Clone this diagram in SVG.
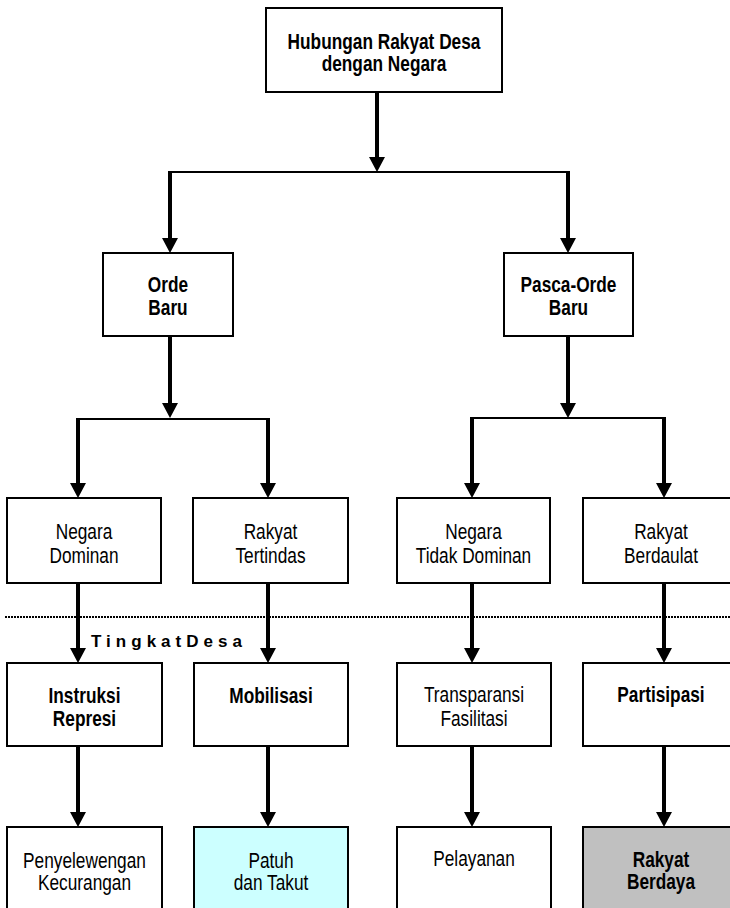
<svg xmlns="http://www.w3.org/2000/svg" width="730" height="908" viewBox="0 0 730 908">
<style>
.box{fill:#fff;stroke:#000;stroke-width:2}
.t{font-family:"Liberation Sans",Arial,sans-serif;font-size:22px;text-anchor:middle;fill:#000}
.b{font-weight:bold}
.v{stroke:#000;stroke-width:4;fill:none;marker-end:url(#ah)}
.h{stroke:#000;stroke-width:2;fill:none}
</style>
<defs>
<marker id="ah" markerUnits="userSpaceOnUse" markerWidth="16" markerHeight="16" viewBox="0 0 16 16" refX="5" refY="8" orient="auto">
<path d="M0,0 L15,8 L0,16 Z" fill="#000"/>
</marker>
</defs>
<rect width="730" height="908" fill="#fff"/>
<line x1="5" y1="617" x2="730" y2="617" stroke="#000" stroke-width="2" stroke-dasharray="2 1"/>
<text x="91" y="647" font-family="Liberation Sans, Arial, sans-serif" font-size="17" font-weight="bold" textLength="151" lengthAdjust="spacing">TingkatDesa</text>
<g id="connectors">
<line class="v" x1="377" y1="92" x2="377" y2="162"/>
<line class="h" x1="169" y1="172" x2="570" y2="172"/>
<line class="v" x1="170" y1="171" x2="170" y2="243"/>
<line class="v" x1="568" y1="171" x2="568" y2="243"/>
<line class="v" x1="170" y1="336" x2="170" y2="408"/>
<line class="h" x1="77" y1="419" x2="269" y2="419"/>
<line class="v" x1="78" y1="418" x2="78" y2="488"/>
<line class="v" x1="268" y1="418" x2="268" y2="488"/>
<line class="v" x1="568" y1="336" x2="568" y2="408"/>
<line class="h" x1="471" y1="418" x2="665" y2="418"/>
<line class="v" x1="472" y1="417" x2="472" y2="488"/>
<line class="v" x1="664" y1="417" x2="664" y2="488"/>
<line class="v" x1="78" y1="583" x2="78" y2="653"/>
<line class="v" x1="268" y1="583" x2="268" y2="653"/>
<line class="v" x1="472" y1="583" x2="472" y2="653"/>
<line class="v" x1="664" y1="583" x2="664" y2="653"/>
<line class="v" x1="78" y1="746" x2="78" y2="817"/>
<line class="v" x1="268" y1="746" x2="268" y2="817"/>
<line class="v" x1="472" y1="746" x2="472" y2="817"/>
<line class="v" x1="664" y1="746" x2="664" y2="817"/>
</g>
<g id="n-hubungan">
<rect class="box" x="266" y="8" width="236" height="84"/>
<text class="t b" transform="translate(384,48.5) scale(0.785,1)">Hubungan Rakyat Desa<tspan x="0" dy="23">dengan Negara</tspan></text>
</g>
<g id="n-orde">
<rect class="box" x="103" y="253" width="130" height="83"/>
<text class="t b" transform="translate(168,291.7) scale(0.785,1)">Orde<tspan x="0" dy="23.3">Baru</tspan></text>
</g>
<g id="n-pasca">
<rect class="box" x="504" y="253" width="129" height="83"/>
<text class="t b" transform="translate(568.5,291.7) scale(0.785,1)">Pasca-Orde<tspan x="0" dy="23.3">Baru</tspan></text>
</g>
<g id="n-negara-dominan">
<rect class="box" x="7" y="498" width="154" height="85"/>
<text class="t" transform="translate(84,539) scale(0.785,1)">Negara<tspan x="0" dy="24">Dominan</tspan></text>
</g>
<g id="n-rakyat-tertindas">
<rect class="box" x="193" y="498" width="155" height="85"/>
<text class="t" transform="translate(270.5,539) scale(0.785,1)">Rakyat<tspan x="0" dy="24">Tertindas</tspan></text>
</g>
<g id="n-negara-tidak-dominan">
<rect class="box" x="397" y="498" width="153" height="85"/>
<text class="t" transform="translate(473.5,539) scale(0.785,1)">Negara<tspan x="0" dy="24">Tidak Dominan</tspan></text>
</g>
<g id="n-rakyat-berdaulat">
<rect class="box" x="583" y="498" width="156" height="85"/>
<text class="t" transform="translate(661,539) scale(0.785,1)">Rakyat<tspan x="0" dy="24">Berdaulat</tspan></text>
</g>
<g id="n-instruksi">
<rect class="box" x="7" y="663" width="155" height="83"/>
<text class="t b" transform="translate(84.5,703) scale(0.785,1)">Instruksi<tspan x="0" dy="23">Represi</tspan></text>
</g>
<g id="n-mobilisasi">
<rect class="box" x="194" y="663" width="154" height="83"/>
<text class="t b" transform="translate(271,703) scale(0.785,1)">Mobilisasi</text>
</g>
<g id="n-transparansi">
<rect class="box" x="397" y="663" width="154" height="83"/>
<text class="t" transform="translate(474,702) scale(0.785,1)">Transparansi<tspan x="0" dy="24">Fasilitasi</tspan></text>
</g>
<g id="n-partisipasi">
<rect class="box" x="583" y="663" width="156" height="83"/>
<text class="t b" transform="translate(661,702) scale(0.785,1)">Partisipasi</text>
</g>
<g id="n-penyelewengan">
<rect class="box" x="7" y="827" width="155" height="95"/>
<text class="t" transform="translate(84.5,868) scale(0.785,1)">Penyelewengan<tspan x="0" dy="22">Kecurangan</tspan></text>
</g>
<g id="n-patuh">
<rect class="box" x="194" y="827" width="154" height="95" style="fill:#CCFFFF"/>
<text class="t" transform="translate(271,868) scale(0.785,1)">Patuh<tspan x="0" dy="22">dan Takut</tspan></text>
</g>
<g id="n-pelayanan">
<rect class="box" x="397" y="827" width="154" height="95"/>
<text class="t" transform="translate(474,866) scale(0.785,1)">Pelayanan</text>
</g>
<g id="n-rakyat-berdaya">
<rect class="box" x="583" y="827" width="156" height="95" style="fill:#C0C0C0"/>
<text class="t b" transform="translate(661,867) scale(0.785,1)">Rakyat<tspan x="0" dy="22">Berdaya</tspan></text>
</g>
</svg>
